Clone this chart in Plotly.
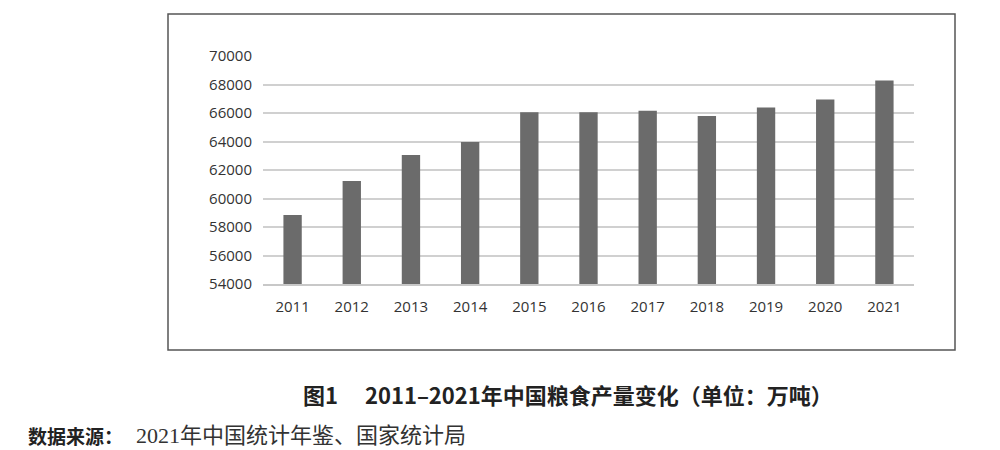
import plotly.graph_objects as go

years = ["2011", "2012", "2013", "2014", "2015", "2016", "2017", "2018", "2019", "2020", "2021"]
output = [58849, 61223, 63048, 63965, 66060, 66044, 66161, 65789, 66384, 66949, 68285]
y_ticks = [54000, 56000, 58000, 60000, 62000, 64000, 66000, 68000, 70000]

caption = "图1\u3000 2011–2021年中国粮食产量变化（单位：万吨）"
source_label = "数据来源："
source_text = "2021年中国统计年鉴、国家统计局"

OFF = 8  # page body margin
W, H = 1000 - OFF, 450 - OFF
# plot area in reference pixels
L, R, T, B = 263, 914, 56, 284

def px(x):
    return (x - L) / (R - L)

def py(y):
    return (B - y) / (B - T)

fig = go.Figure(go.Bar(x=years, y=output, marker=dict(color="#6b6b6b", line=dict(width=0)),
                       hoverinfo="x+y"))

fig.update_layout(
    width=W, height=H,
    margin=dict(l=L - OFF, r=1000 - R, t=T - OFF, b=450 - B, pad=0),
    paper_bgcolor="white", plot_bgcolor="white",
    bargap=0.69,
    showlegend=False,
    font=dict(family="Open Sans, Noto Sans, sans-serif", size=15, color="#333333"),
    xaxis=dict(showgrid=False, showline=True, linecolor="#c8c8c8", linewidth=1.5,
               ticks="", tickfont=dict(size=15, color="#333333"), ticklabelstandoff=8),
    yaxis=dict(range=[54000, 70000], tickvals=y_ticks, ticktext=[str(v) for v in y_ticks],
               showgrid=True, gridcolor="#d0d0d0", gridwidth=1.5, zeroline=False,
               showline=False, ticks="", tickfont=dict(size=15, color="#333333"),
               ticklabelstandoff=10),
    shapes=[dict(type="rect", xref="paper", yref="paper",
                 x0=px(168), x1=px(955), y0=py(350), y1=py(14),
                 line=dict(color="#555555", width=1.5), fillcolor="rgba(0,0,0,0)", layer="below")],
    annotations=[
        dict(text="<b>" + caption + "</b>", xref="paper", yref="paper",
             x=px(568), y=py(394), xanchor="center", yanchor="middle", showarrow=False,
             font=dict(family="Noto Sans CJK SC", size=22, color="#222222")),
        dict(text="<b>" + source_label + "</b>", xref="paper", yref="paper",
             x=px(26), y=py(435), xanchor="left", yanchor="middle", showarrow=False,
             font=dict(family="Noto Sans CJK SC", size=19, color="#222222")),
        dict(text=source_text, xref="paper", yref="paper",
             x=px(134), y=py(435), xanchor="left", yanchor="middle", showarrow=False,
             font=dict(family="Liberation Serif, Noto Sans CJK SC", size=22, color="#333333")),
    ],
)

fig.write_html("out.html")
